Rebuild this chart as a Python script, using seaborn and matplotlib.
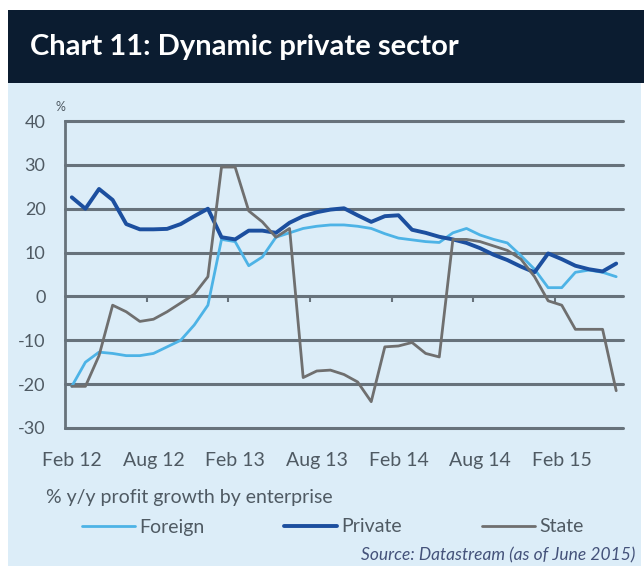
import numpy as np
import pandas as pd
import matplotlib
matplotlib.use("Agg")
import matplotlib.pyplot as plt
from matplotlib.patches import Rectangle
import seaborn as sns

# % y/y profit growth by enterprise type, monthly from Feb 2012
foreign = [-20.5, -15, -12.7, -13, -13.5, -13.5, -13, -11.5, -10, -6.5, -2,
           13, 12.5, 7, 9, 13.5, 14.5, 15.5, 16, 16.3, 16.3,
           16, 15.5, 14.3, 13.3, 12.9, 12.5, 12.3, 14.5, 15.5, 14,
           13, 12.2, 9.3, 6.2, 2, 2, 5.5, 6, 5.5, 4.5]
private = [22.6, 20, 24.5, 22, 16.5, 15.3, 15.3, 15.4, 16.5, 18.3, 20,
           13.5, 13, 15, 15, 14.5, 16.8, 18.3, 19.2, 19.8, 20.1,
           18.5, 17, 18.3, 18.5, 15.2, 14.5, 13.6, 13, 12.2, 11,
           9.5, 8.3, 6.8, 5.5, 9.8, 8.5, 7, 6.2, 5.7, 7.5]
state = [-20.5, -20.5, -13.5, -2, -3.5, -5.7, -5.2, -3.5, -1.5, 0.5, 4.5,
         29.5, 29.5, 19.5, 17, 13.5, 15.5, -18.5, -17, -16.8, -17.8,
         -19.5, -24, -11.5, -11.3, -10.5, -13, -13.8, 13, 13, 12.5,
         11.5, 10.5, 8.5, 4.5, -1, -2, -7.5, -7.5, -7.5, -21.5]

series_names = ["Foreign", "Private", "State"]
tick_labels = ["Feb 12", "Aug 12", "Feb 13", "Aug 13", "Feb 14", "Aug 14", "Feb 15"]
y_ticks = [-30, -20, -10, 0, 10, 20, 30, 40]

colors = {"Foreign": "#4db3e6", "Private": "#1c4f9f", "State": "#6f6f6f"}
widths = {"Foreign": 2.0, "Private": 2.8, "State": 2.0}

months = np.arange(len(foreign))
df = pd.DataFrame({
    "month": np.tile(months, 3),
    "value": np.concatenate([foreign, private, state]),
    "series": np.repeat(series_names, len(months)),
})

sns.set_style("white")
plt.rcParams["font.family"] = ["Lato", "DejaVu Sans"]

W, H = 644, 573
fig = plt.figure(figsize=(W / 100, H / 100), dpi=100)
fig.patch.set_facecolor("white")

# header bar and light panel
fig.add_artist(Rectangle((8 / W, 1 - 566 / H), (641 - 8) / W, (566 - 83) / H,
                         transform=fig.transFigure, facecolor="#dcedf8",
                         edgecolor="none", zorder=0))
fig.add_artist(Rectangle((8 / W, 1 - 83 / H), (W - 8) / W, (83 - 10) / H,
                         transform=fig.transFigure, facecolor="#0b1c30",
                         edgecolor="none", zorder=0))
fig.text(30 / W, 1 - 47 / H, "Chart 11: Dynamic private sector", color="white",
         fontsize=21, fontweight="bold", va="center", ha="left")

grid_c = "#67727b"
text_c = "#4f5a63"

ax = fig.add_axes([65 / W, 1 - 428 / H, (623 - 65) / W, (428 - 121) / H])
ax.set_facecolor("none")

sns.lineplot(data=df, x="month", y="value", hue="series", size="series",
             hue_order=series_names, size_order=series_names,
             palette=colors, sizes=widths, ax=ax, legend=True)

ax.set_xlim(-0.5, len(months) - 0.5)
ax.set_ylim(-30, 40)
ax.set_yticks(y_ticks)
ax.set_yticklabels([str(v) for v in y_ticks])
ax.set_xticks(np.arange(0, len(months), 6))
ax.set_xticklabels(tick_labels)
ax.set_xlabel("")
ax.set_ylabel("")

ax.grid(axis="y", color=grid_c, linewidth=2.2)
ax.grid(axis="x", visible=False)
for gl in ax.get_ygridlines():
    gl.set_clip_on(False)
ax.set_axisbelow(True)
for side in ["top", "right", "bottom"]:
    ax.spines[side].set_visible(False)
ax.spines["left"].set_color(grid_c)
ax.spines["left"].set_linewidth(2)

ax.tick_params(axis="y", length=4, width=2, color=grid_c, direction="out",
               pad=10, labelsize=13, labelcolor=text_c)
ax.tick_params(axis="x", length=0, pad=17, labelsize=14, labelcolor=text_c)

# six-month tick marks on the zero line
zero_frac = (0 - (-30)) / (40 - (-30))
sec = ax.secondary_xaxis(zero_frac)
sec.set_xticks(np.arange(5.5, len(months), 6))
sec.xaxis.set_ticks_position("bottom")
sec.tick_params(axis="x", direction="out", length=4, width=1.5, color=grid_c,
                labelbottom=False, labeltop=False)
for sp in sec.spines.values():
    sp.set_visible(False)

fig.text(55 / W, 1 - 107 / H, "%", fontsize=9, color=text_c, ha="left", va="center")

# legend below the plot
leg = ax.get_legend()
handles = leg.legend_handles
labels = [t.get_text() for t in leg.get_texts()]
leg.remove()
fig.text(46 / W, 1 - 498 / H, "% y/y profit growth by enterprise", fontsize=14,
         color=text_c, ha="left", va="center")
fig.legend(handles, labels, loc="center left", bbox_to_anchor=(82 / W, 1 - 527 / H),
           ncol=3, frameon=False, handlelength=2.7, handletextpad=0.25,
           columnspacing=4.1, borderpad=0, borderaxespad=0, fontsize=14,
           labelcolor=text_c)

fig.text(635 / W, 1 - 555 / H, "Source: Datastream (as of June 2015)", fontsize=12.5,
         style="italic", color="#44527a", ha="right", va="center")

fig.savefig("out.png", dpi=100)
